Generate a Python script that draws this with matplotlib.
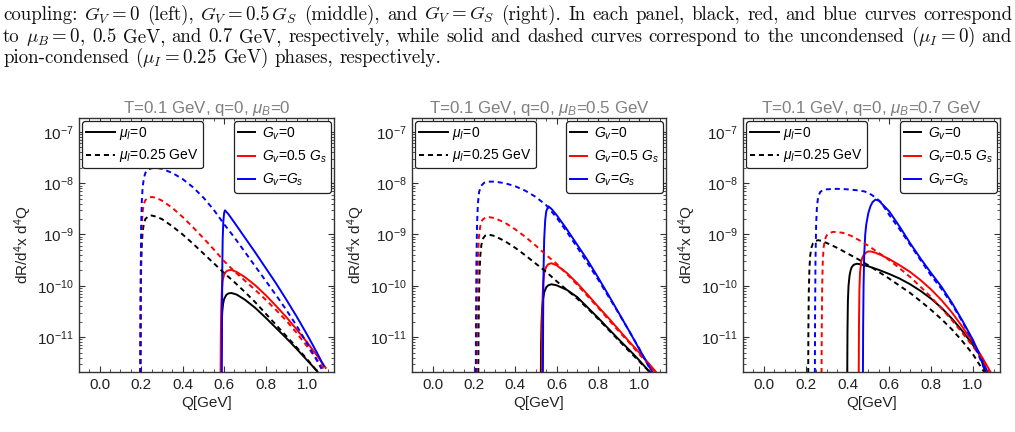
import numpy as np
import matplotlib
matplotlib.use("Agg")
import matplotlib.pyplot as plt
from matplotlib.ticker import FixedLocator, FuncFormatter, MultipleLocator, LogLocator, NullFormatter
from matplotlib.lines import Line2D

plt.rcParams['font.family'] = ['Liberation Sans', 'DejaVu Sans']
plt.rcParams['mathtext.fontset'] = 'custom'
plt.rcParams['mathtext.rm'] = 'Liberation Sans'
plt.rcParams['mathtext.it'] = 'Liberation Sans:italic'
plt.rcParams['mathtext.bf'] = 'Liberation Sans:bold'

# ---------------- data (Q in GeV, log10 of dR/d^4x d^4Q) ----------------
titles = [r"T=0.1 GeV, q=0, $\mu_B$=0",
          r"T=0.1 GeV, q=0, $\mu_B$=0.5 GeV",
          r"T=0.1 GeV, q=0, $\mu_B$=0.7 GeV"]
x_ticks = [0.0, 0.2, 0.4, 0.6, 0.8, 1.0]
y_decades = [-11, -10, -9, -8, -7]

# Panel 1: mu_B = 0
p1_solid_gv0_Q = [0.585, 0.586, 0.588, 0.591, 0.595, 0.60, 0.61, 0.62, 0.635, 0.66, 0.70, 0.75, 0.80, 0.85, 0.90, 0.95, 1.00, 1.03, 1.06]
p1_solid_gv0_L = [-11.7, -11.2, -10.75, -10.5, -10.35, -10.26, -10.18, -10.15, -10.14, -10.17, -10.27, -10.43, -10.62, -10.82, -11.02, -11.23, -11.45, -11.58, -11.72]
p1_solid_gv05_Q = [0.583, 0.584, 0.586, 0.589, 0.593, 0.60, 0.61, 0.62, 0.635, 0.66, 0.70, 0.75, 0.80, 0.85, 0.90, 0.95, 1.00, 1.05, 1.09]
p1_solid_gv05_L = [-11.7, -11.0, -10.45, -10.1, -9.9, -9.78, -9.72, -9.70, -9.69, -9.73, -9.83, -9.99, -10.18, -10.39, -10.61, -10.85, -11.1, -11.37, -11.6]
p1_solid_gv1_Q = [0.589, 0.590, 0.591, 0.593, 0.596, 0.60, 0.604, 0.62, 0.65, 0.70, 0.75, 0.80, 0.85, 0.90, 0.95, 1.00, 1.05, 1.08]
p1_solid_gv1_L = [-11.7, -10.6, -9.7, -9.1, -8.75, -8.58, -8.53, -8.6, -8.77, -9.06, -9.35, -9.65, -9.95, -10.27, -10.6, -10.95, -11.32, -11.56]
p1_dash_gv0_Q = [0.196, 0.197, 0.198, 0.200, 0.203, 0.207, 0.213, 0.22, 0.235, 0.25, 0.27, 0.30, 0.35, 0.40, 0.45, 0.50, 0.55, 0.60, 0.65, 0.70, 0.75, 0.80, 0.85, 0.90, 0.95, 1.00, 1.06]
p1_dash_gv0_L = [-11.7, -11.0, -10.2, -9.6, -9.2, -8.95, -8.78, -8.7, -8.64, -8.63, -8.65, -8.7, -8.84, -9.0, -9.18, -9.37, -9.56, -9.75, -9.93, -10.12, -10.32, -10.54, -10.76, -10.98, -11.2, -11.43, -11.72]
p1_dash_gv05_Q = [0.196, 0.197, 0.198, 0.200, 0.203, 0.207, 0.213, 0.22, 0.235, 0.25, 0.27, 0.30, 0.35, 0.40, 0.45, 0.50, 0.55, 0.60, 0.65, 0.70, 0.75, 0.80, 0.85, 0.90, 0.95, 1.00, 1.05, 1.08]
p1_dash_gv05_L = [-11.7, -10.8, -9.9, -9.2, -8.8, -8.55, -8.4, -8.33, -8.28, -8.27, -8.28, -8.34, -8.48, -8.66, -8.86, -9.07, -9.29, -9.52, -9.72, -9.9, -10.08, -10.27, -10.47, -10.68, -10.92, -11.18, -11.45, -11.62]
p1_dash_gv1_Q = [0.196, 0.197, 0.198, 0.200, 0.203, 0.207, 0.213, 0.22, 0.235, 0.25, 0.27, 0.30, 0.35, 0.40, 0.45, 0.50, 0.55, 0.60, 0.65, 0.70, 0.75, 0.80, 0.85, 0.90, 0.95, 1.00, 1.04, 1.07]
p1_dash_gv1_L = [-11.7, -10.6, -9.6, -8.8, -8.35, -8.08, -7.9, -7.8, -7.73, -7.71, -7.70, -7.72, -7.8, -7.92, -8.08, -8.28, -8.52, -8.8, -9.06, -9.34, -9.62, -9.9, -10.18, -10.47, -10.78, -11.12, -11.4, -11.62]

# Panel 2: mu_B = 0.5 GeV
p2_solid_gv0_Q = [0.524, 0.525, 0.527, 0.530, 0.535, 0.54, 0.55, 0.56, 0.575, 0.60, 0.65, 0.70, 0.75, 0.80, 0.85, 0.90, 0.95, 1.00, 1.06]
p2_solid_gv0_L = [-11.7, -11.2, -10.75, -10.45, -10.25, -10.13, -10.03, -9.99, -9.97, -9.99, -10.08, -10.22, -10.42, -10.62, -10.83, -11.04, -11.24, -11.45, -11.72]
p2_solid_gv05_Q = [0.529, 0.530, 0.532, 0.535, 0.54, 0.55, 0.56, 0.575, 0.60, 0.65, 0.70, 0.75, 0.80, 0.85, 0.90, 0.95, 1.00, 1.05, 1.09]
p2_solid_gv05_L = [-11.7, -10.9, -10.3, -9.95, -9.75, -9.63, -9.58, -9.56, -9.6, -9.75, -9.95, -10.17, -10.4, -10.62, -10.85, -11.08, -11.3, -11.53, -11.72]
p2_solid_gv1_Q = [0.534, 0.535, 0.537, 0.54, 0.545, 0.55, 0.56, 0.575, 0.60, 0.65, 0.70, 0.75, 0.80, 0.85, 0.90, 0.95, 1.00, 1.07]
p2_solid_gv1_L = [-11.7, -10.6, -9.7, -9.1, -8.72, -8.55, -8.45, -8.5, -8.62, -8.9, -9.2, -9.5, -9.83, -10.17, -10.52, -10.87, -11.23, -11.72]
p2_dash_gv0_Q = [0.221, 0.222, 0.224, 0.227, 0.231, 0.236, 0.245, 0.255, 0.27, 0.30, 0.35, 0.40, 0.45, 0.50, 0.55, 0.60, 0.65, 0.70, 0.75, 0.80, 0.85, 0.90, 0.95, 1.00, 1.06]
p2_dash_gv0_L = [-11.7, -11.0, -10.3, -9.75, -9.4, -9.2, -9.07, -9.02, -9.0, -9.03, -9.13, -9.26, -9.41, -9.57, -9.73, -9.91, -10.08, -10.25, -10.44, -10.64, -10.85, -11.06, -11.27, -11.47, -11.72]
p2_dash_gv05_Q = [0.214, 0.215, 0.217, 0.220, 0.224, 0.23, 0.24, 0.255, 0.27, 0.30, 0.35, 0.40, 0.45, 0.50, 0.55, 0.60, 0.65, 0.70, 0.75, 0.80, 0.85, 0.90, 0.95, 1.00, 1.05, 1.085]
p2_dash_gv05_L = [-11.7, -10.8, -10.0, -9.4, -9.05, -8.85, -8.72, -8.67, -8.66, -8.68, -8.77, -8.9, -9.05, -9.22, -9.4, -9.57, -9.77, -9.98, -10.2, -10.42, -10.65, -10.88, -11.1, -11.33, -11.55, -11.72]
p2_dash_gv1_Q = [0.209, 0.210, 0.212, 0.215, 0.219, 0.225, 0.235, 0.25, 0.27, 0.30, 0.35, 0.40, 0.45, 0.50, 0.55, 0.60, 0.65, 0.70, 0.75, 0.80, 0.85, 0.90, 0.95, 1.00, 1.065]
p2_dash_gv1_L = [-11.7, -10.5, -9.5, -8.8, -8.4, -8.17, -8.05, -7.99, -7.97, -7.97, -8.0, -8.06, -8.15, -8.27, -8.43, -8.67, -8.95, -9.25, -9.56, -9.87, -10.2, -10.53, -10.87, -11.22, -11.72]

# Panel 3: mu_B = 0.7 GeV
p3_solid_gv0_Q = [0.399, 0.400, 0.402, 0.405, 0.41, 0.415, 0.42, 0.43, 0.445, 0.46, 0.50, 0.55, 0.60, 0.65, 0.70, 0.75, 0.80, 0.85, 0.90, 0.95, 1.00, 1.03, 1.065]
p3_solid_gv0_L = [-11.7, -10.9, -10.3, -10.0, -9.8, -9.7, -9.64, -9.59, -9.57, -9.58, -9.62, -9.69, -9.77, -9.86, -9.97, -10.1, -10.25, -10.43, -10.64, -10.88, -11.15, -11.33, -11.72]
p3_solid_gv05_Q = [0.454, 0.455, 0.457, 0.46, 0.465, 0.47, 0.48, 0.49, 0.50, 0.51, 0.53, 0.56, 0.60, 0.65, 0.70, 0.75, 0.80, 0.85, 0.90, 0.95, 1.00, 1.05, 1.09]
p3_solid_gv05_L = [-11.7, -10.8, -10.1, -9.75, -9.55, -9.46, -9.39, -9.35, -9.33, -9.33, -9.35, -9.4, -9.48, -9.6, -9.73, -9.89, -10.07, -10.28, -10.52, -10.8, -11.1, -11.43, -11.72]
p3_solid_gv1_Q = [0.474, 0.475, 0.477, 0.48, 0.485, 0.49, 0.50, 0.51, 0.52, 0.534, 0.55, 0.60, 0.65, 0.70, 0.75, 0.80, 0.85, 0.90, 0.95, 1.00, 1.075]
p3_solid_gv1_L = [-11.7, -10.8, -10.0, -9.4, -9.0, -8.8, -8.58, -8.45, -8.37, -8.32, -8.34, -8.55, -8.85, -9.17, -9.47, -9.75, -10.02, -10.33, -10.68, -11.05, -11.72]
p3_dash_gv0_Q = [0.212, 0.213, 0.215, 0.218, 0.222, 0.228, 0.235, 0.245, 0.26, 0.28, 0.32, 0.36, 0.40, 0.45, 0.50, 0.55, 0.60, 0.65, 0.70, 0.75, 0.80, 0.85, 0.90, 0.95, 1.00, 1.06]
p3_dash_gv0_L = [-11.7, -10.8, -10.1, -9.65, -9.4, -9.25, -9.17, -9.13, -9.11, -9.13, -9.2, -9.28, -9.37, -9.48, -9.6, -9.73, -9.86, -10.0, -10.14, -10.3, -10.47, -10.65, -10.85, -11.08, -11.33, -11.72]
p3_dash_gv05_Q = [0.276, 0.277, 0.279, 0.282, 0.286, 0.292, 0.30, 0.31, 0.33, 0.35, 0.38, 0.42, 0.46, 0.50, 0.55, 0.60, 0.65, 0.70, 0.75, 0.80, 0.85, 0.90, 0.95, 1.00, 1.05, 1.085]
p3_dash_gv05_L = [-11.7, -10.8, -10.0, -9.5, -9.25, -9.1, -9.02, -8.98, -8.95, -8.95, -8.97, -9.03, -9.12, -9.22, -9.36, -9.5, -9.66, -9.83, -10.02, -10.22, -10.44, -10.67, -10.92, -11.18, -11.45, -11.72]
p3_dash_gv1_Q = [0.244, 0.245, 0.247, 0.25, 0.254, 0.26, 0.27, 0.28, 0.30, 0.35, 0.40, 0.45, 0.48, 0.50, 0.52, 0.54, 0.56, 0.60, 0.65, 0.70, 0.75, 0.80, 0.85, 0.90, 0.95, 1.00, 1.065]
p3_dash_gv1_L = [-11.7, -10.5, -9.5, -8.8, -8.45, -8.26, -8.17, -8.14, -8.12, -8.11, -8.12, -8.14, -8.16, -8.19, -8.24, -8.3, -8.37, -8.62, -8.9, -9.2, -9.5, -9.8, -10.06, -10.36, -10.7, -11.08, -11.72]

panels = [
    [(p1_solid_gv0_Q, p1_solid_gv0_L, 'k', '-'), (p1_solid_gv05_Q, p1_solid_gv05_L, 'r', '-'), (p1_solid_gv1_Q, p1_solid_gv1_L, 'b', '-'),
     (p1_dash_gv0_Q, p1_dash_gv0_L, 'k', '--'), (p1_dash_gv05_Q, p1_dash_gv05_L, 'r', '--'), (p1_dash_gv1_Q, p1_dash_gv1_L, 'b', '--')],
    [(p2_solid_gv0_Q, p2_solid_gv0_L, 'k', '-'), (p2_solid_gv05_Q, p2_solid_gv05_L, 'r', '-'), (p2_solid_gv1_Q, p2_solid_gv1_L, 'b', '-'),
     (p2_dash_gv0_Q, p2_dash_gv0_L, 'k', '--'), (p2_dash_gv05_Q, p2_dash_gv05_L, 'r', '--'), (p2_dash_gv1_Q, p2_dash_gv1_L, 'b', '--')],
    [(p3_solid_gv0_Q, p3_solid_gv0_L, 'k', '-'), (p3_solid_gv05_Q, p3_solid_gv05_L, 'r', '-'), (p3_solid_gv1_Q, p3_solid_gv1_L, 'b', '-'),
     (p3_dash_gv0_Q, p3_dash_gv0_L, 'k', '--'), (p3_dash_gv05_Q, p3_dash_gv05_L, 'r', '--'), (p3_dash_gv1_Q, p3_dash_gv1_L, 'b', '--')],
]

caption_lines = [
    r"coupling: $G_V = 0$ (left), $G_V = 0.5\,G_S$ (middle), and $G_V = G_S$ (right). In each panel, black, red, and blue curves correspond",
    r"to $\mu_B = 0$, 0.5 GeV, and 0.7 GeV, respectively, while solid and dashed curves correspond to the uncondensed $(\mu_I = 0)$ and",
    r"pion-condensed $(\mu_I = 0.25$ GeV$)$ phases, respectively.",
]
caption_justify = [True, True, False]

legend1_labels = [r"$\mu_I$=0", r"$\mu_I$=0.25 GeV"]
legend2_labels = [r"$G_v$=0", r"$G_v$=0.5 $G_s$", r"$G_v$=$G_s$"]

# ---------------- figure ----------------
W, H = 1015, 432
fig = plt.figure(figsize=(W / 100, H / 100), dpi=100)
renderer = fig.canvas.get_renderer()


def split_words(s):
    words, cur, in_math = [], "", False
    for ch in s:
        if ch == '$':
            in_math = not in_math
        if ch == ' ' and not in_math:
            if cur:
                words.append(cur)
            cur = ""
        else:
            cur += ch
    if cur:
        words.append(cur)
    return words


cap_fs = 13.6
cap_left, cap_right = 3, 1012
cap_y = [15, 37, 58]
t_ab_sp = fig.text(0, 0, "a b", family='cmr10', fontsize=cap_fs)
t_ab = fig.text(0, 0, "ab", family='cmr10', fontsize=cap_fs)
space = t_ab_sp.get_window_extent(renderer).width - t_ab.get_window_extent(renderer).width
t_ab_sp.remove()
t_ab.remove()
for txt, yy, just in zip(caption_lines, cap_y, caption_justify):
    words = split_words(txt)
    arts = [fig.text(0, 1 - yy / H, w, family='cmr10', math_fontfamily='cm',
                     fontsize=cap_fs, va='center', ha='left', color='#111111') for w in words]
    widths = [a.get_window_extent(renderer).width for a in arts]
    if just and len(words) > 1:
        gap = (cap_right - cap_left - sum(widths)) / (len(words) - 1)
    else:
        gap = space
    x = cap_left
    for a, w in zip(arts, widths):
        a.set_x(x / W)
        x += w + gap

axes_px = [(79, 334), (412, 666), (743, 1000)]
top_px, bot_px = 118, 372
frame_col = '#333333'
dash = (0, (2.6, 2.0))

for i, (l, r) in enumerate(axes_px):
    ax = fig.add_axes([l / W, 1 - bot_px / H, (r - l) / W, (bot_px - top_px) / H])
    for Q, L, c, ls in panels[i]:
        y = 10.0 ** np.array(L)
        ax.plot(Q, y, color=c, lw=1.4, ls=(dash if ls == '--' else '-'))
    ax.set_yscale('log')
    ax.set_xlim(-0.1, 1.13)
    ax.set_ylim(10 ** -11.68, 10 ** -6.73)
    ax.xaxis.set_major_locator(FixedLocator(x_ticks))
    ax.xaxis.set_major_formatter(FuncFormatter(lambda v, p: f"{v:.1f}"))
    ax.xaxis.set_minor_locator(MultipleLocator(0.05))
    ax.yaxis.set_major_locator(FixedLocator([10.0 ** d for d in y_decades]))
    ax.yaxis.set_major_formatter(FuncFormatter(lambda v, p: r"$10^{%d}$" % int(round(np.log10(v)))))
    ax.yaxis.set_minor_locator(LogLocator(base=10, subs=np.arange(2, 10)))
    ax.yaxis.set_minor_formatter(NullFormatter())
    ax.tick_params(which='both', direction='in', top=True, right=True, color=frame_col,
                   labelsize=11, labelcolor='#222222')
    ax.tick_params(which='major', length=4, width=0.8, pad=4)
    ax.tick_params(which='minor', length=2, width=0.6)
    for sp in ax.spines.values():
        sp.set_color(frame_col)
        sp.set_linewidth(1.0)
    ax.set_xlabel("Q[GeV]", fontsize=11, color='#222222', labelpad=3)
    ax.set_ylabel(r"dR/d$^4$x d$^4$Q", fontsize=11, color='#222222', labelpad=2)
    ax.set_title(titles[i], fontsize=12.2, color='#808080', pad=2)

    h1 = [Line2D([], [], color='k', lw=1.4), Line2D([], [], color='k', lw=1.4, ls=dash)]
    leg1 = ax.legend(h1, legend1_labels, loc='upper left', bbox_to_anchor=(0.0, 1.0),
                     fontsize=10, handlelength=2.1, labelspacing=0.42, borderpad=0.28,
                     handletextpad=0.3, fancybox=True, framealpha=1, edgecolor='#222222',
                     borderaxespad=0.2)
    leg1.get_frame().set_linewidth(0.9)
    ax.add_artist(leg1)
    h2 = [Line2D([], [], color=c, lw=1.4) for c in ['k', 'r', 'b']]
    leg2 = ax.legend(h2, legend2_labels, loc='upper right', bbox_to_anchor=(1.0, 1.0),
                     fontsize=10, handlelength=1.2, labelspacing=0.5, borderpad=0.32,
                     handletextpad=0.5, fancybox=True, framealpha=1, edgecolor='#222222',
                     borderaxespad=0.2)
    leg2.get_frame().set_linewidth(0.9)

fig.savefig("out.png", dpi=100)
